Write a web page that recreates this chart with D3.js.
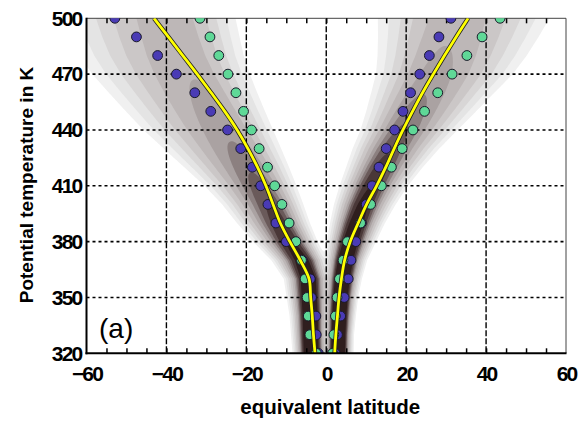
<!DOCTYPE html>
<html>
<head>
<meta charset="utf-8">
<script src="https://cdn.jsdelivr.net/npm/d3@7"></script>
<style>
  html, body { margin: 0; padding: 0; background: #fff; }
  svg { display: block; }
  text { font-family: "Liberation Sans", Arial, sans-serif; }
</style>
</head>
<body>
<svg id="chart" width="579" height="423"></svg>
<script>
// Potential temperature levels (K)
const levels = [320, 330, 340, 350, 360, 370, 380, 390, 400, 410, 420, 430, 440, 450, 460, 470, 480, 490, 500];

// Point series (equivalent latitude at each level)
const blueSouth  = [-2.0, -2.5, -2.6, -3.7, -4.0, -6.0, -10.0, -12.6, -14.6, -16.4, -18.5, -21.4, -24.7, -28.9, -32.9, -37.5, -42.2, -47.5, -52.9];
const greenSouth = [-2.5, -4.1, -4.5, -4.8, -5.3, -6.2, -7.6, -9.3, -11.1, -12.9, -14.7, -16.8, -18.7, -20.7, -22.6, -24.6, -26.9, -29.1, -31.6];
const blueNorth  = [2.2, 2.8, 3.6, 4.5, 5.5, 6.2, 7.4, 8.8, 10.0, 11.5, 13.2, 15.0, 17.1, 19.2, 21.1, 23.4, 25.8, 28.2, 31.2];
const greenNorth = [1.6, 1.9, 2.3, 2.7, 3.3, 4.2, 5.3, 8.6, 11.1, 13.8, 16.3, 19.0, 21.7, 24.6, 27.9, 31.5, 35.2, 39.0, 43.5];

// Mean curves
const meanSouth = [-2.8, -3.2, -3.5, -3.9, -4.3, -6.5, -9.1, -11.5, -13.3, -15.1, -17.2, -19.6, -22.3, -25.4, -28.8, -32.3, -35.9, -39.5, -43.1];
const meanNorth = [2.1, 2.4, 2.8, 3.2, 3.8, 4.6, 6.0, 8.0, 10.1, 12.6, 14.9, 17.0, 19.2, 21.6, 24.1, 26.8, 29.6, 32.5, 35.5];

// Distribution of the band: centre, equatorward spread, poleward spread
const bandSouthCentre = [-3.7, -3.8, -3.9, -4.1, -4.3, -5.9, -9.0, -11.6, -13.9, -16.5, -19.4, -22.4, -25.4, -28.2, -30.9, -33.5, -35.6, -37.2, -38.6];
const bandSouthInner  = [1.5, 1.5, 1.6, 1.7, 1.8, 2.1, 2.5, 2.8, 3.1, 3.5, 4.0, 4.5, 5.0, 5.4, 5.8, 6.2, 6.5, 6.8, 7.0];
const bandSouthOuter  = [1.6, 1.7, 1.8, 2.0, 2.2, 2.8, 3.4, 4.0, 4.6, 5.4, 6.4, 7.4, 8.4, 9.2, 10.0, 10.8, 11.4, 11.8, 12.0];
const bandNorthCentre = [2.9, 3.0, 3.2, 3.5, 3.9, 4.7, 5.9, 7.4, 9.1, 11.2, 13.5, 16.0, 18.8, 21.5, 24.2, 26.8, 28.8, 30.5, 32.0];
const bandNorthInner  = [1.2, 1.2, 1.3, 1.4, 1.5, 1.7, 2.0, 2.3, 2.6, 2.9, 3.2, 3.6, 4.0, 4.6, 5.3, 6.0, 6.8, 7.6, 8.4];
const bandNorthOuter  = [1.3, 1.3, 1.4, 1.5, 1.7, 1.9, 2.3, 2.6, 3.0, 3.4, 4.0, 4.7, 5.5, 6.4, 7.3, 8.3, 9.1, 9.8, 10.5];

// Shading levels and their colours
const shadeThresholds = [0.008, 0.016, 0.03, 0.05, 0.08, 0.12, 0.16, 0.2, 0.25, 0.32];
const shadeColors = ["#f0f0f0", "#e4e4e4", "#d8d6d6", "#cbc7c7", "#bdb7b7", "#aaa2a2", "#8c8080", "#6a5a5a", "#4a3838", "#2f1e1e"];

// Axis ticks
const xTicks = [-60, -40, -20, 0, 20, 40, 60];
const xGrid = [-40, -20, 0, 20, 40];
const xMinor = d3.range(-55, 60, 5);
const yTicks = [320, 350, 380, 410, 440, 470, 500];
const yGrid = [350, 380, 410, 440, 470];

const svg = d3.select("#chart");
const plotL = 86.5, plotR = 566, plotT = 18.3, plotB = 353.3;
const x = d3.scaleLinear().domain([-60, 60]).range([plotL, plotR]);
const y = d3.scaleLinear().domain([320, 500]).range([plotB, plotT]);

svg.append("defs").append("clipPath").attr("id", "plot")
  .append("rect").attr("x", plotL).attr("y", plotT).attr("width", plotR - plotL).attr("height", plotB - plotT);

// ---- shaded probability band ----
const step = 0.25, x0 = -60, nx = Math.round(120 / step) + 1;
const th0 = 320, ny = 181; // 1 K rows
const lev = d3.scaleLinear().domain(levels).clamp(true);
const sc = lev.copy().range(bandSouthCentre), si = lev.copy().range(bandSouthInner), so = lev.copy().range(bandSouthOuter);
const nc = lev.copy().range(bandNorthCentre), ni = lev.copy().range(bandNorthInner), no = lev.copy().range(bandNorthOuter);
const values = new Float64Array(nx * ny);
for (let j = 0; j < ny; j++) {
  const th = th0 + j;
  const cS = sc(th), iS = si(th), oS = so(th);
  const cN = nc(th), iN = ni(th), oN = no(th);
  const aS = 2 / (iS + oS), aN = 2 / (iN + oN);
  for (let i = 0; i < nx; i++) {
    const xv = x0 + i * step;
    const dS = xv - cS, sS = dS > 0 ? iS : oS;
    const dN = xv - cN, sN = dN < 0 ? iN : oN;
    values[j * nx + i] = aS * Math.exp(-dS * dS / (2 * sS * sS)) + aN * Math.exp(-dN * dN / (2 * sN * sN));
  }
}
const contours = d3.contours().size([nx, ny]).thresholds(shadeThresholds)(values);
const gridToPixel = d3.geoTransform({
  point: function(gx, gy) {
    this.stream.point(x(x0 + (gx - 0.5) * step), y(th0 + (gy - 0.5)));
  }
});
const shadePath = d3.geoPath(gridToPixel);
svg.append("g").attr("clip-path", "url(#plot)")
  .selectAll("path").data(contours).join("path")
  .attr("d", shadePath)
  .attr("fill", (d, k) => shadeColors[k])
  .attr("stroke", "none");

// ---- grid ----
const grid = svg.append("g");
grid.selectAll("line.v").data(xGrid).join("line")
  .attr("x1", d => x(d)).attr("x2", d => x(d)).attr("y1", plotT).attr("y2", plotB)
  .attr("stroke", "#000").attr("stroke-width", 1.4).attr("stroke-dasharray", "6,2");
grid.selectAll("line.h").data(yGrid).join("line")
  .attr("x1", plotL).attr("x2", plotR).attr("y1", d => y(d)).attr("y2", d => y(d))
  .attr("stroke", "#000").attr("stroke-width", 1.6).attr("stroke-dasharray", "3,3");

// ---- frame and ticks ----
svg.append("line").attr("x1", plotL).attr("x2", plotR).attr("y1", plotT).attr("y2", plotT).attr("stroke", "#444").attr("stroke-width", 1);
svg.append("line").attr("x1", plotR).attr("x2", plotR).attr("y1", plotT).attr("y2", plotB).attr("stroke", "#444").attr("stroke-width", 1);

const minorBottom = svg.append("g").attr("transform", `translate(0,${plotB})`)
  .call(d3.axisBottom(x).tickValues(xMinor).tickSize(-5).tickFormat(""));
const minorTop = svg.append("g").attr("transform", `translate(0,${plotT})`)
  .call(d3.axisTop(x).tickValues(xMinor).tickSize(-5).tickFormat(""));
[minorBottom, minorTop].forEach(g => {
  g.select(".domain").remove();
  g.selectAll(".tick line").attr("stroke", "#000").attr("stroke-width", 1.5);
});

// ---- points ----
const pointLayer = svg.append("g").attr("clip-path", "url(#plot)");
function drawPoints(vals, fill) {
  pointLayer.append("g").selectAll("circle").data(vals).join("circle")
    .attr("cx", d => x(d)).attr("cy", (d, k) => y(levels[k])).attr("r", 4.9)
    .attr("fill", fill).attr("stroke", "#1a1a2a").attr("stroke-width", 1);
}
drawPoints(blueSouth, "#4a3bb5");
drawPoints(blueNorth, "#4a3bb5");
drawPoints(greenSouth, "#5fd897");
drawPoints(greenNorth, "#5fd897");

// ---- mean curves ----
const curveLayer = svg.append("g").attr("clip-path", "url(#plot)");
const meanLine = d3.line().x(d => x(d[0])).y(d => y(d[1])).curve(d3.curveCatmullRom);
[meanSouth, meanNorth].forEach(vals => {
  const pts = vals.map((v, k) => [v, levels[k]]);
  curveLayer.append("path").attr("d", meanLine(pts)).attr("fill", "none").attr("stroke", "#222").attr("stroke-width", 4.4);
  curveLayer.append("path").attr("d", meanLine(pts)).attr("fill", "none").attr("stroke", "#ffff00").attr("stroke-width", 2.8);
});

// ---- axis lines ----
svg.append("line").attr("x1", plotL).attr("x2", plotL).attr("y1", plotT - 0.5).attr("y2", plotB + 1).attr("stroke", "#000").attr("stroke-width", 2);
svg.append("line").attr("x1", plotL - 1).attr("x2", plotR + 0.5).attr("y1", plotB).attr("y2", plotB).attr("stroke", "#000").attr("stroke-width", 2);

// ---- tick labels ----
const xAxis = svg.append("g").attr("transform", `translate(0,${plotB})`)
  .call(d3.axisBottom(x).tickValues(xTicks).tickSize(0).tickPadding(13).tickFormat(d3.format("d")));
xAxis.select(".domain").remove();
xAxis.selectAll("text").attr("font-family", "Liberation Sans, Arial, sans-serif")
  .attr("font-size", 21).attr("font-weight", "bold").attr("fill", "#000").attr("letter-spacing", "-1.8px");

const yAxis = svg.append("g").attr("transform", `translate(${plotL},0)`)
  .call(d3.axisLeft(y).tickValues(yTicks).tickSize(0).tickPadding(5).tickFormat(d3.format("d")));
yAxis.select(".domain").remove();
yAxis.selectAll("text").attr("font-family", "Liberation Sans, Arial, sans-serif")
  .attr("font-size", 21).attr("font-weight", "bold").attr("fill", "#000").attr("letter-spacing", "-1.8px");

// ---- titles ----
svg.append("text").attr("x", (plotL + plotR) / 2 + 4).attr("y", 414)
  .attr("text-anchor", "middle").attr("font-size", 20.5).attr("font-weight", "bold")
  .text("equivalent latitude");
svg.append("text").attr("transform", "translate(33,185) rotate(-90)")
  .attr("text-anchor", "middle").attr("font-size", 19).attr("font-weight", "bold")
  .text("Potential temperature in K");
svg.append("text").attr("x", 99).attr("y", 338).attr("font-size", 28).text("(a)");
</script>
</body>
</html>
